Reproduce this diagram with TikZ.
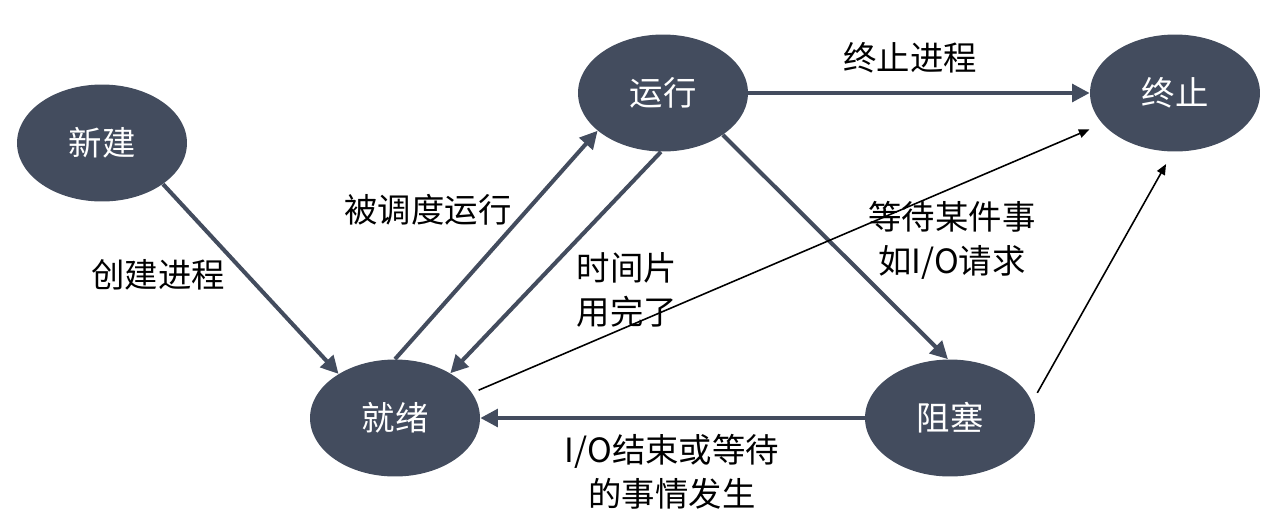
\documentclass[tikz,border=0pt]{standalone}
\usepackage{fontspec}
\setmainfont{Noto Sans CJK SC}
\usetikzlibrary{arrows.meta,shapes.geometric}
\definecolor{slate}{RGB}{67,76,94}
\begin{document}
\begin{tikzpicture}[x=0.02cm,y=-0.02cm,
    state/.style={ellipse,fill=slate,text=white,minimum width=3.4cm,minimum height=2.34cm,
      inner sep=0pt,font=\fontsize{19}{24}\selectfont},
    lbl/.style={font=\fontsize{19}{25}\selectfont,align=center},
    thick arrow/.style={draw=slate,line width=2.3pt,-{Triangle[length=10pt,width=10pt]}},
    thin arrow/.style={draw=black,line width=0.9pt,-{Triangle[length=6pt,width=5pt]}}]
  \useasboundingbox (0,0) rectangle (1278,528);
  \draw
    (102,143) node[state] (new){新建}
    (663,93) node[state] (run){运行}
    (1175,93) node[state] (exit){终止}
    (395,418) node[state] (ready){就绪}
    (950,418) node[state] (block){阻塞};
  \begin{scope}[thick arrow]
    \draw (new.-34) to (ready.142);
    \draw (ready.90) to (run.210);
    \draw (run.268) to (ready.39);
    \draw (run) to (exit);
    \draw (run.-35) to (block.92);
    \draw (block) to (ready);
  \end{scope}
  \begin{scope}[thin arrow]
    \draw[shorten <=4pt,shorten >=8pt] (ready.18) to (exit.203);
    \draw[shorten <=6pt,shorten >=8pt] (block.11) to (exit.268);
  \end{scope}
  \node[lbl] (l1) at (158,275) {创建进程};
  \node[lbl] (l2) at (428,210) {被调度运行};
  \node[lbl,align=left] (l3) at (627,290) {时间片\\用完了};
  \node[lbl] (l4) at (910,58) {终止进程};
  \node[lbl] (l5) at (952,240) {等待某件事\\如I/O请求};
  \node[lbl] (l6) at (672,472) {I/O结束或等待\\的事情发生};
\end{tikzpicture}
\end{document}
